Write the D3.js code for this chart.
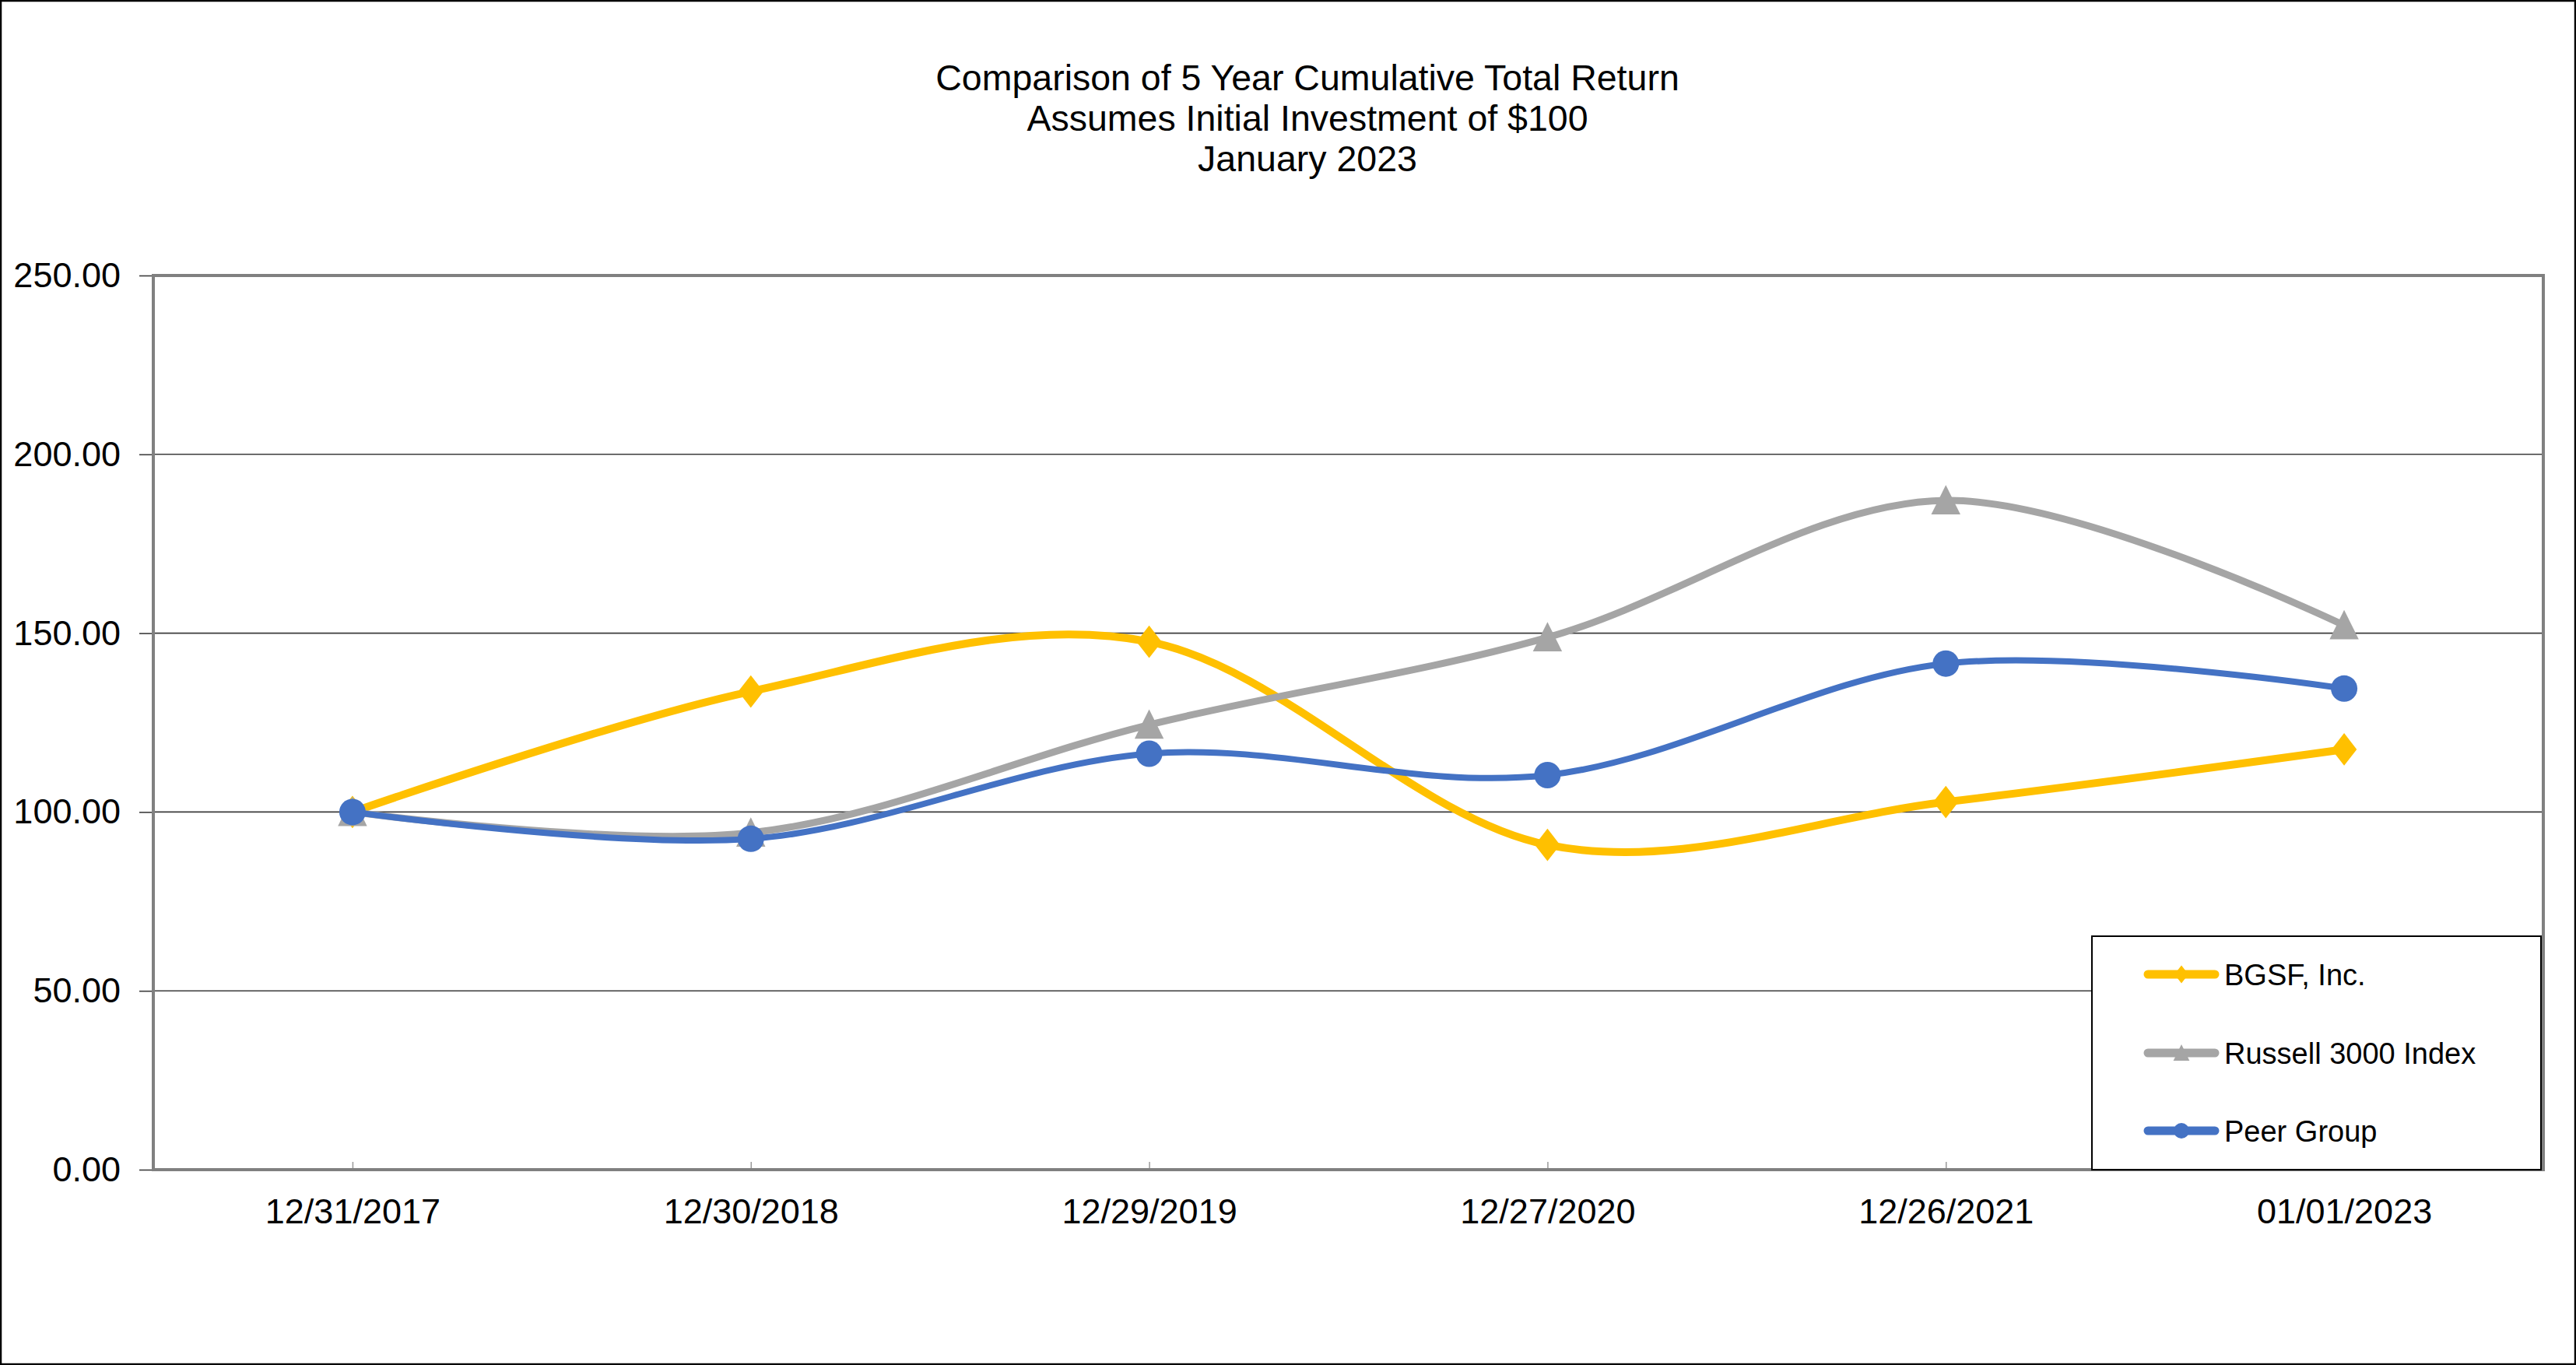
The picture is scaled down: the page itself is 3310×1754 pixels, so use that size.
<!DOCTYPE html>
<html>
<head>
<meta charset="utf-8">
<script src="https://cdn.jsdelivr.net/npm/d3@7"></script>
<style>
  body { margin: 0; background: #fff; }
  svg { display: block; font-family: "Liberation Sans", Arial, sans-serif; }
</style>
</head>
<body>
<svg id="chart" width="3310" height="1754"></svg>
<script>
// data
const dates = ["12/31/2017", "12/30/2018", "12/29/2019", "12/27/2020", "12/26/2021", "01/01/2023"];
const bgsf = [100, 133.7, 147.6, 90.8, 102.8, 117.5];
const russell = [100, 94.2, 124.4, 148.8, 187.1, 152.2];
const peer = [100, 92.5, 116.3, 110.3, 141.5, 134.5];
const yTicks = [0, 50, 100, 150, 200, 250];
const titleLines = ["Comparison of 5 Year Cumulative Total Return", "Assumes Initial Investment of $100", "January 2023"];

const series = [
  {name: "BGSF, Inc.", values: bgsf, color: "#FFC000", width: 10, marker: "diamond"},
  {name: "Russell 3000 Index", values: russell, color: "#A5A5A5", width: 9, marker: "triangle"},
  {name: "Peer Group", values: peer, color: "#4472C4", width: 8, marker: "circle"}
];

var W = 3310, H = 1754;
var plot = {left: 197, right: 3268, top: 354, bottom: 1503};

var svg = d3.select("#chart");

// outer frame
svg.append("rect")
  .attr("x", 1).attr("y", 1)
  .attr("width", W - 2).attr("height", H - 2)
  .attr("fill", "#fff")
  .attr("stroke", "#000")
  .attr("stroke-width", 2.5);

// title
svg.append("g").selectAll("text")
  .data(titleLines)
  .enter().append("text")
  .attr("x", 1680)
  .attr("y", function(d, i) { return 116 + i * 52; })
  .attr("text-anchor", "middle")
  .attr("font-size", 46.5)
  .attr("fill", "#000")
  .text(function(d) { return d; });

// scales
var x = d3.scalePoint().domain(dates).range([plot.left, plot.right]).padding(0.5);
var y = d3.scaleLinear().domain([0, 250]).range([plot.bottom, plot.top]);

// gridlines
svg.append("g")
  .selectAll("line")
  .data(yTicks.filter(function(d) { return d > 0 && d < 250; }))
  .enter().append("line")
  .attr("x1", plot.left).attr("x2", plot.right)
  .attr("y1", function(d) { return y(d); })
  .attr("y2", function(d) { return y(d); })
  .attr("stroke", "#3c3c3c")
  .attr("stroke-width", 1.6);

// y axis
var yAxis = d3.axisLeft(y)
  .tickValues(yTicks)
  .tickSize(18)
  .tickPadding(24)
  .tickFormat(d3.format(".2f"));

var gy = svg.append("g")
  .attr("transform", "translate(" + plot.left + ",0)")
  .call(yAxis);
gy.select(".domain").remove();
gy.selectAll(".tick line").attr("stroke", "#3c3c3c").attr("stroke-width", 1.6);
gy.selectAll(".tick text")
  .attr("font-size", 45)
  .attr("font-family", "'Liberation Sans', Arial, sans-serif")
  .attr("fill", "#000");

// x axis, ticks point inward
var xAxis = d3.axisBottom(x).tickSize(-10).tickPadding(0);
var gx = svg.append("g")
  .attr("transform", "translate(0," + plot.bottom + ")")
  .call(xAxis);
gx.select(".domain").remove();
gx.selectAll(".tick line").attr("stroke", "#9a9a9a").attr("stroke-width", 1.5);
gx.selectAll(".tick text")
  .attr("y", 0)
  .attr("dy", 0)
  .attr("transform", "translate(0,69)")
  .attr("font-size", 45)
  .attr("font-family", "'Liberation Sans', Arial, sans-serif")
  .attr("fill", "#000");

// plot area border
svg.append("rect")
  .attr("x", plot.left).attr("y", plot.top)
  .attr("width", plot.right - plot.left)
  .attr("height", plot.bottom - plot.top)
  .attr("fill", "none")
  .attr("stroke", "#808080")
  .attr("stroke-width", 4);

// marker shapes
function markerPath(type, size) {
  if (type === "diamond") {
    return "M0," + (-size * 0.58) + "L" + (size * 0.45) + ",0L0," + (size * 0.58) + "L" + (-size * 0.45) + ",0Z";
  }
  if (type === "triangle") {
    return "M0," + (-size * 0.55) + "L" + (size * 0.52) + "," + (size * 0.5) + "L" + (-size * 0.52) + "," + (size * 0.5) + "Z";
  }
  return d3.symbol().type(d3.symbolCircle).size(Math.PI * size * size / 4)();
}

var line = d3.line()
  .x(function(d, i) { return x(dates[i]); })
  .y(function(d) { return y(d); })
  .curve(d3.curveCardinal.tension(0));

series.forEach(function(s) {
  var g = svg.append("g").attr("class", "series");
  g.append("path")
    .attr("d", line(s.values))
    .attr("fill", "none")
    .attr("stroke", s.color)
    .attr("stroke-width", s.width)
    .attr("stroke-linecap", "round")
    .attr("stroke-linejoin", "round");

  g.selectAll(".pt")
    .data(s.values)
    .enter().append("path")
    .attr("class", "pt")
    .attr("transform", function(d, i) { return "translate(" + x(dates[i]) + "," + y(d) + ")"; })
    .attr("d", markerPath(s.marker, s.marker === "circle" ? 34 : 36))
    .attr("fill", s.color);
});

// legend
var legend = {left: 2688, top: 1203, right: 3265, bottom: 1503};
svg.append("rect")
  .attr("x", legend.left).attr("y", legend.top)
  .attr("width", legend.right - legend.left)
  .attr("height", legend.bottom - legend.top)
  .attr("fill", "#fff")
  .attr("stroke", "#000")
  .attr("stroke-width", 2);

var rowY = [1252, 1353, 1453];
var lg = svg.append("g").selectAll("g")
  .data(series)
  .enter().append("g")
  .attr("transform", function(d, i) { return "translate(0," + rowY[i] + ")"; });

lg.append("line")
  .attr("x1", 2760).attr("x2", 2846)
  .attr("y1", 0).attr("y2", 0)
  .attr("stroke", function(d) { return d.color; })
  .attr("stroke-width", 11)
  .attr("stroke-linecap", "round");

lg.append("path")
  .attr("transform", "translate(2803,0)")
  .attr("d", function(d) { return markerPath(d.marker, 20); })
  .attr("fill", function(d) { return d.color; });

lg.append("text")
  .attr("x", 2858)
  .attr("y", 0)
  .attr("dy", "0.36em")
  .attr("font-size", 38)
  .attr("fill", "#000")
  .text(function(d) { return d.name; });
</script>
</body>
</html>
